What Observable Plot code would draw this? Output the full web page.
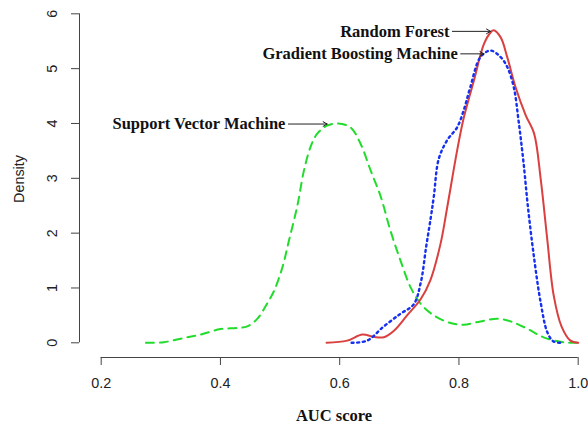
<!DOCTYPE html>
<html>
<head>
<meta charset="utf-8">
<script src="https://cdn.jsdelivr.net/npm/d3@7"></script>
<script src="https://cdn.jsdelivr.net/npm/@observablehq/plot@0.6"></script>
<style>
  html, body { margin: 0; padding: 0; background: #fff; }
  #chart svg { display: block; }
</style>
</head>
<body>
<div id="chart"></div>
<script>
// ---- Data ----
const svmX = [0.275, 0.305, 0.339, 0.367, 0.400, 0.428, 0.445, 0.462, 0.478, 0.490, 0.504, 0.515, 0.529, 0.540, 0.551, 0.562, 0.579, 0.596, 0.618, 0.635, 0.652, 0.669, 0.685, 0.702, 0.719, 0.736, 0.758, 0.786, 0.808, 0.836, 0.864, 0.887, 0.915, 0.942, 0.976, 1.000];
const svmY = [0.00, 0.01, 0.09, 0.15, 0.25, 0.27, 0.30, 0.44, 0.71, 0.95, 1.38, 1.87, 2.50, 3.14, 3.57, 3.81, 3.96, 4.00, 3.93, 3.63, 3.14, 2.66, 2.05, 1.50, 1.01, 0.71, 0.50, 0.36, 0.33, 0.39, 0.44, 0.39, 0.255, 0.10, 0.01, 0.00];

const rfX = [0.578, 0.6125, 0.638, 0.657, 0.674, 0.691, 0.713, 0.736, 0.752, 0.769, 0.780, 0.797, 0.808, 0.825, 0.842, 0.853, 0.858, 0.870, 0.881, 0.895, 0.912, 0.926, 0.937, 0.948, 0.959, 0.972, 0.987, 1.000];
const rfY = [0.00, 0.04, 0.15, 0.11, 0.10, 0.22, 0.50, 0.80, 1.14, 1.80, 2.45, 3.51, 4.10, 4.78, 5.45, 5.66, 5.70, 5.57, 5.21, 4.66, 4.15, 3.82, 3.00, 1.90, 0.86, 0.30, 0.04, 0.00];

const gbmX = [0.620, 0.646, 0.674, 0.702, 0.724, 0.736, 0.745, 0.753, 0.758, 0.766, 0.780, 0.797, 0.808, 0.819, 0.836, 0.853, 0.870, 0.881, 0.892, 0.900, 0.908, 0.916, 0.926, 0.937, 0.948, 0.958, 0.970];
const gbmY = [0.00, 0.04, 0.30, 0.53, 0.70, 1.10, 1.75, 2.30, 2.68, 3.35, 3.69, 3.93, 4.24, 4.66, 5.21, 5.33, 5.21, 5.03, 4.66, 4.05, 3.32, 2.45, 1.55, 0.74, 0.20, 0.03, 0.00];

const xTicks = [0.2, 0.4, 0.6, 0.8, 1.0];
const yTicks = [0, 1, 2, 3, 4, 5, 6];

// annotation labels: text, arrow start x, arrow end x, y
const labelNames = ["Support Vector Machine", "Random Forest", "Gradient Boosting Machine"];
const labelX0 = [0.514, 0.789, 0.803];
const labelX1 = [0.579, 0.853, 0.842];
const labelY  = [3.99, 5.68, 5.27];

// ---- Build tables ----
const toRows = (xs, ys) => xs.map((x, i) => ({x, y: ys[i]}));
const svm = toRows(svmX, svmY);
const rf = toRows(rfX, rfY);
const gbm = toRows(gbmX, gbmY);
const labels = labelNames.map((t, i) => ({t, x0: labelX0[i], x1: labelX1[i], y: labelY[i]}));

const xDomain = [0.1636, 1.0173];
const yDomain = [-0.268, 6.243];
const axisColor = "#444";
const sans = {fontFamily: "'Liberation Sans', Arial, sans-serif", fontSize: 14.4, fill: "#222"};
const serifBold = {fontFamily: "'Liberation Serif', 'Times New Roman', serif", fontWeight: "bold", fontSize: 16.5, fill: "#111"};

const chart = Plot.plot({
  width: 588,
  height: 424,
  marginLeft: 79,
  marginRight: 0,
  marginTop: 0,
  marginBottom: 67,
  style: {fontFamily: "'Liberation Sans', Arial, sans-serif", fontSize: "14.4px", background: "#fff", overflow: "visible"},
  x: {domain: xDomain, axis: null, label: null},
  y: {domain: yDomain, axis: null, label: null},
  marks: [
    // axis lines (R style: spanning first to last tick)
    Plot.ruleX([xDomain[0]], {y1: yTicks[0], y2: yTicks[yTicks.length - 1], stroke: axisColor, strokeWidth: 1}),
    Plot.ruleY([yDomain[0]], {x1: xTicks[0], x2: xTicks[xTicks.length - 1], stroke: axisColor, strokeWidth: 1}),
    // tick marks
    Plot.axisY(yTicks, {anchor: "left", tickSize: 8, stroke: axisColor, tickFormat: () => "", label: null}),
    Plot.axisX(xTicks, {anchor: "bottom", tickSize: 8, stroke: axisColor, tickFormat: () => "", label: null}),
    // tick labels
    Plot.text(yTicks, {x: xDomain[0], y: d => d, text: d => String(d), rotate: -90, dx: -27, lineAnchor: "middle", textAnchor: "middle", ...sans}),
    Plot.text(xTicks, {x: d => d, y: yDomain[0], text: d => d3.format(".1f")(d), dy: 26, lineAnchor: "middle", textAnchor: "middle", ...sans}),
    // axis titles
    Plot.text(["Density"], {frameAnchor: "left", rotate: -90, dx: -60, lineAnchor: "middle", textAnchor: "middle", ...sans}),
    Plot.text(["AUC score"], {frameAnchor: "bottom", dy: 58, lineAnchor: "middle", textAnchor: "middle", ...serifBold}),
    // density curves
    Plot.line(svm, {x: "x", y: "y", curve: "catmull-rom", stroke: "#22dc2c", strokeWidth: 2, strokeDasharray: "8,6"}),
    Plot.line(rf, {x: "x", y: "y", curve: "catmull-rom", stroke: "#d9403f", strokeWidth: 2}),
    Plot.line(gbm, {x: "x", y: "y", curve: "catmull-rom", stroke: "#1530ee", strokeWidth: 2.4, strokeDasharray: "2,3.6"}),
    // annotations
    Plot.arrow(labels, {x1: "x0", y1: "y", x2: "x1", y2: "y", stroke: "#222", strokeWidth: 1, headLength: 7}),
    Plot.text(labels, {x: "x0", y: "y", text: "t", dx: -3, textAnchor: "end", lineAnchor: "middle", ...serifBold})
  ]
});

document.getElementById("chart").appendChild(chart);
</script>
</body>
</html>
